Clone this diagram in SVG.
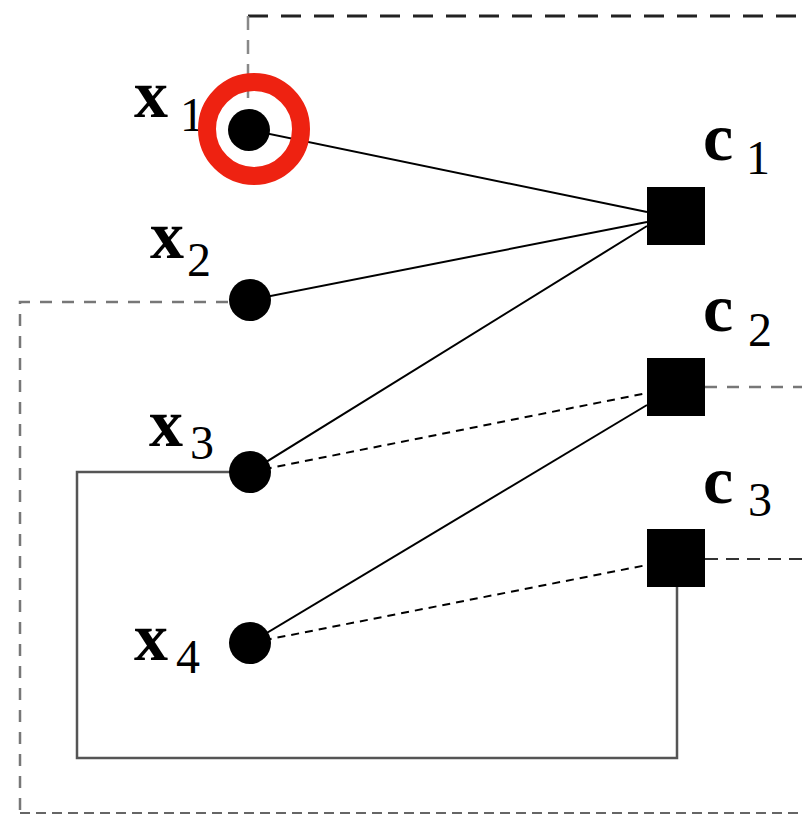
<svg xmlns="http://www.w3.org/2000/svg" width="802" height="815" viewBox="0 0 802 815">
<style>
.bg{fill:#fff}
.sol{stroke:#000;stroke-width:2;fill:none}
.dsh{stroke:#000;stroke-width:2;fill:none;stroke-dasharray:8 6}
.dark{stroke:#222;stroke-width:3;fill:none;stroke-dasharray:20 13}
.vgray{stroke:#888;stroke-width:2.5;fill:none;stroke-dasharray:14 10}
.gray{stroke:#777;stroke-width:2.5;fill:none;stroke-dasharray:12 10}
.bot{stroke:#666;stroke-width:2;fill:none;stroke-dasharray:10 6}
.box{stroke:#555;stroke-width:2.5;fill:none}
.var{fill:#000}
.fac{fill:#000}
.lx{font-family:"Liberation Serif","DejaVu Serif",serif;font-size:68px;font-weight:bold;fill:#000}
.ls{font-family:"Liberation Serif","DejaVu Serif",serif;font-size:48px;font-weight:normal;fill:#000}
</style>
<rect class="bg" x="0" y="0" width="802" height="815"/>
<g id="connectors">
<line class="dark" x1="248" y1="16" x2="802" y2="16"/>
<line class="vgray" x1="248" y1="16" x2="248" y2="98"/>
<polyline class="gray" points="228,302 20,302 20,813"/>
<line class="bot" x1="20" y1="813" x2="802" y2="813"/>
<line class="gray" x1="705" y1="387" x2="802" y2="387"/>
<line class="dsh" x1="705" y1="559" x2="802" y2="559" style="stroke:#333;stroke-dasharray:13 8"/>
<polyline class="box" points="250,472 77,472 77,758 677,758 677,587"/>
<line class="sol" x1="250" y1="130" x2="647" y2="212"/>
<line class="sol" x1="250" y1="300" x2="647" y2="222"/>
<line class="sol" x1="250" y1="472" x2="647" y2="226"/>
<line class="dsh" x1="250" y1="472" x2="647" y2="393"/>
<line class="sol" x1="250" y1="643" x2="647" y2="405"/>
<line class="dsh" x1="250" y1="643" x2="647" y2="565"/>
</g>
<g id="x1">
<circle class="var" cx="249" cy="130" r="21"/>
<text class="lx" x="134" y="117">x</text>
<text class="ls" x="180" y="131">1</text>
<circle cx="254" cy="129" r="47" fill="none" stroke="#ee2211" stroke-width="18"/>
</g>
<g id="x2">
<circle class="var" cx="250" cy="300" r="21"/>
<text class="lx" x="150" y="258">x</text>
<text class="ls" x="187" y="276">2</text>
</g>
<g id="x3">
<circle class="var" cx="250" cy="472" r="21"/>
<text class="lx" x="149" y="446">x</text>
<text class="ls" x="190" y="459">3</text>
</g>
<g id="x4">
<circle class="var" cx="250" cy="643" r="21"/>
<text class="lx" x="134" y="660">x</text>
<text class="ls" x="176" y="673">4</text>
</g>
<g id="c1">
<rect class="fac" x="647" y="187" width="58" height="58"/>
<text class="lx" x="703" y="160">c</text>
<text class="ls" x="746" y="174">1</text>
</g>
<g id="c2">
<rect class="fac" x="647" y="358" width="58" height="58"/>
<text class="lx" x="703" y="331">c</text>
<text class="ls" x="748" y="346">2</text>
</g>
<g id="c3">
<rect class="fac" x="647" y="529" width="58" height="58"/>
<text class="lx" x="703" y="503">c</text>
<text class="ls" x="748" y="516">3</text>
</g>
</svg>
